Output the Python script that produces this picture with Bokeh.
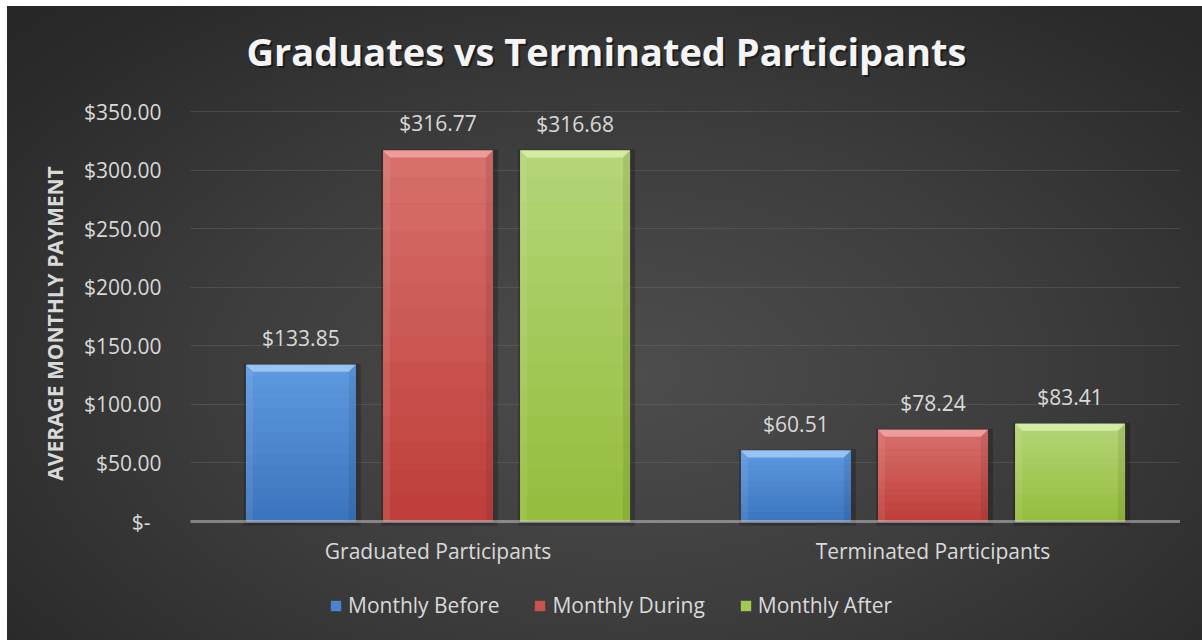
import numpy as np
from bokeh.plotting import figure
from bokeh.models import (ColumnDataSource, Range1d, FixedTicker, LabelSet, Label,
                          Legend, LegendItem, Span)
from bokeh.embed import file_html
from bokeh.resources import INLINE
from bokeh.core.properties import value

# ---------------- data ----------------
categories = ["Graduated Participants", "Terminated Participants"]
series_names = ["Monthly Before", "Monthly During", "Monthly After"]
monthly_before = [133.85, 60.51]
monthly_during = [316.77, 78.24]
monthly_after = [316.68, 83.41]
y_ticks = [0, 50, 100, 150, 200, 250, 300, 350]
y_tick_labels = ["$-\u00a0\u00a0", "$50.00", "$100.00", "$150.00", "$200.00",
                 "$250.00", "$300.00", "$350.00"]
title_text = "Graduates vs Terminated Participants"
y_label = "AVERAGE MONTHLY PAYMENT"

# ---------------- style ----------------
colors_top = ["#5e9ae0", "#d8716d", "#b5d579"]
colors_bottom = ["#3a74be", "#bd3d39", "#94bc3c"]
colors_bevel = ["#a3cbf5", "#f2a6a2", "#d9eeaa"]
colors_mid = ["#4a86d0", "#c9524e", "#a3c952"]
text_col = "#d9d9d9"
FONT = "Open Sans"

W, H = 1195, 634
ML, MR = 183, 22
TOP_GAP = 105                   # pixels between the top of the figure and the 350 line
BASE_FROM_BOTTOM = 119          # pixels between the zero line and the figure bottom
frame_w = W - ML - MR
y_max = 350
px_x = frame_w / len(categories)
px_y = (H - TOP_GAP - BASE_FROM_BOTTOM) / y_max
y_min = -BASE_FROM_BOTTOM / px_y
y_top = y_max + TOP_GAP / px_y

offsets = [-0.277, 0.0, 0.277]
bar_w = 0.222

p = figure(width=W, height=H, x_range=Range1d(0, len(categories)),
           y_range=Range1d(y_min, y_top), output_backend="svg",
           toolbar_location=None, x_axis_location=None,
           min_border_left=ML, min_border_right=MR,
           min_border_top=0, min_border_bottom=0)
p.background_fill_color = None
p.border_fill_color = None
p.outline_line_color = None
p.styles = {"background": "radial-gradient(ellipse 75% 85% at 52% 58%, #4d4d4d 0%, #3d3d3d 45%, #2a2a2a 85%, #262626 100%)",
            "margin-left": "7px", "margin-top": "6px"}

def hex2rgb(h):
    h = h.lstrip("#")
    return [int(h[i:i + 2], 16) for i in (0, 2, 4)]

def rgb2hex(c):
    return "#%02x%02x%02x" % tuple(int(round(v)) for v in c)

all_series = [monthly_before, monthly_during, monthly_after]
legend_items = []
label_x, label_y, label_t = [], [], []
N = 14
for s, vals in enumerate(all_series):
    xs = [i + 0.5 + offsets[s] for i in range(len(categories))]
    src = ColumnDataSource(dict(x=xs, top=vals))
    # shadow
    sh = ColumnDataSource(dict(
        left=[x - bar_w / 2 - 2 / px_x for x in xs],
        right=[x + bar_w / 2 + 5 / px_x for x in xs],
        top=[v + 1 / px_y for v in vals],
        bottom=[-4 / px_y for _ in vals]))
    p.quad(left="left", right="right", top="top", bottom="bottom", source=sh,
           fill_color="black", fill_alpha=0.22, line_color=None)
    r = p.vbar(x="x", top="top", width=bar_w, source=src,
               fill_color=colors_mid[s], line_color=None)
    legend_items.append(LegendItem(label=series_names[s], renderers=[r]))
    # vertical gradient bands
    ctop = np.array(hex2rgb(colors_top[s]), float)
    cbot = np.array(hex2rgb(colors_bottom[s]), float)
    L, R, B, T, C = [], [], [], [], []
    for x, v in zip(xs, vals):
        for k in range(N):
            f = (k + 0.5) / N
            L.append(x - bar_w / 2)
            R.append(x + bar_w / 2)
            B.append(v * k / N)
            T.append(v * (k + 1) / N)
            C.append(rgb2hex(cbot + (ctop - cbot) * f))
    p.quad(left=L, right=R, bottom=B, top=T, fill_color=C, line_color=None)
    # side bevels
    dx = 7 / px_x
    dy = 7 / px_y
    p.quad(left=[x - bar_w / 2 for x in xs], right=[x - bar_w / 2 + dx for x in xs],
           bottom=[0 for _ in vals], top=vals, fill_color="white", fill_alpha=0.08,
           line_color=None)
    p.quad(left=[x + bar_w / 2 - dx for x in xs], right=[x + bar_w / 2 for x in xs],
           bottom=[0 for _ in vals], top=vals, fill_color="black", fill_alpha=0.08,
           line_color=None)
    # top bevel (trapezoid)
    px_list, py_list = [], []
    for x, v in zip(xs, vals):
        l, rr = x - bar_w / 2, x + bar_w / 2
        px_list.append([l, rr, rr - dx, l + dx])
        py_list.append([v, v, v - dy, v - dy])
    p.patches(px_list, py_list, fill_color=colors_bevel[s], fill_alpha=0.85,
              line_color=None)
    for x, v in zip(xs, vals):
        label_x.append(x)
        label_y.append(v)
        label_t.append("${:,.2f}".format(v))

# zero baseline
p.add_layout(Span(location=0, dimension="width", line_color="#cfcfcf",
                  line_width=3, line_dash="1 1"))

lab_src = ColumnDataSource(dict(x=label_x, y=label_y, t=label_t))
p.add_layout(LabelSet(x="x", y="y", text="t", source=lab_src, text_align="center",
                      text_baseline="alphabetic", y_offset=19,
                      text_font=value(FONT), text_font_size=value("21px"),
                      text_color=text_col))

# category labels (x axis)
cat_src = ColumnDataSource(dict(x=[i + 0.5 for i in range(len(categories))],
                                y=[0] * len(categories), t=categories))
p.add_layout(LabelSet(x="x", y="y", text="t", source=cat_src, text_align="center",
                      text_baseline="middle", y_offset=-29,
                      text_font=value(FONT), text_font_size=value("21px"),
                      text_color=text_col))

p.yaxis.ticker = FixedTicker(ticks=y_ticks)
p.yaxis.major_label_overrides = {t: l for t, l in zip(y_ticks, y_tick_labels)}
p.yaxis.axis_line_color = None
p.yaxis.major_tick_line_color = None
p.yaxis.major_tick_out = 0
p.yaxis.major_tick_in = 0
p.yaxis.minor_tick_line_color = None
p.yaxis.major_label_text_font = FONT
p.yaxis.major_label_text_font_size = "21px"
p.yaxis.major_label_text_color = text_col
p.yaxis.major_label_standoff = 29
p.yaxis.axis_label = y_label
p.yaxis.axis_label_text_font = FONT
p.yaxis.axis_label_text_font_style = "bold"
p.yaxis.axis_label_text_font_size = "21px"
p.yaxis.axis_label_text_color = text_col
p.yaxis.axis_label_standoff = 12

p.xgrid.grid_line_color = None
p.ygrid.ticker = FixedTicker(ticks=y_ticks[1:])
p.ygrid.grid_line_color = "#8a8a8a"
p.ygrid.grid_line_alpha = 0.5
p.ygrid.grid_line_dash = "1 1"
p.ygrid.grid_line_width = 1

# title (screen units relative to the plot frame)
title_cx = 599 - ML
title_base = H - 44
p.add_layout(Label(x=title_cx + 2, y=title_base - 2, x_units="screen", y_units="screen",
                   text=title_text, text_align="center", text_baseline="alphabetic",
                   text_font=FONT, text_font_style="bold", text_font_size="38px",
                   text_color="black", text_alpha=0.45))
p.add_layout(Label(x=title_cx, y=title_base, x_units="screen", y_units="screen",
                   text=title_text, text_align="center", text_baseline="alphabetic",
                   text_font=FONT, text_font_style="bold", text_font_size="38px",
                   text_color="#f4f4f4"))

legend = Legend(items=legend_items, orientation="horizontal",
                location=(139, 21), padding=0, margin=0, spacing=34,
                label_standoff=6, glyph_width=13, glyph_height=13,
                label_text_font=FONT, label_text_font_size="21px",
                label_text_color=text_col, background_fill_alpha=0,
                border_line_color=None)
p.add_layout(legend, "center")

open("out.html", "w").write(file_html(p, INLINE))
